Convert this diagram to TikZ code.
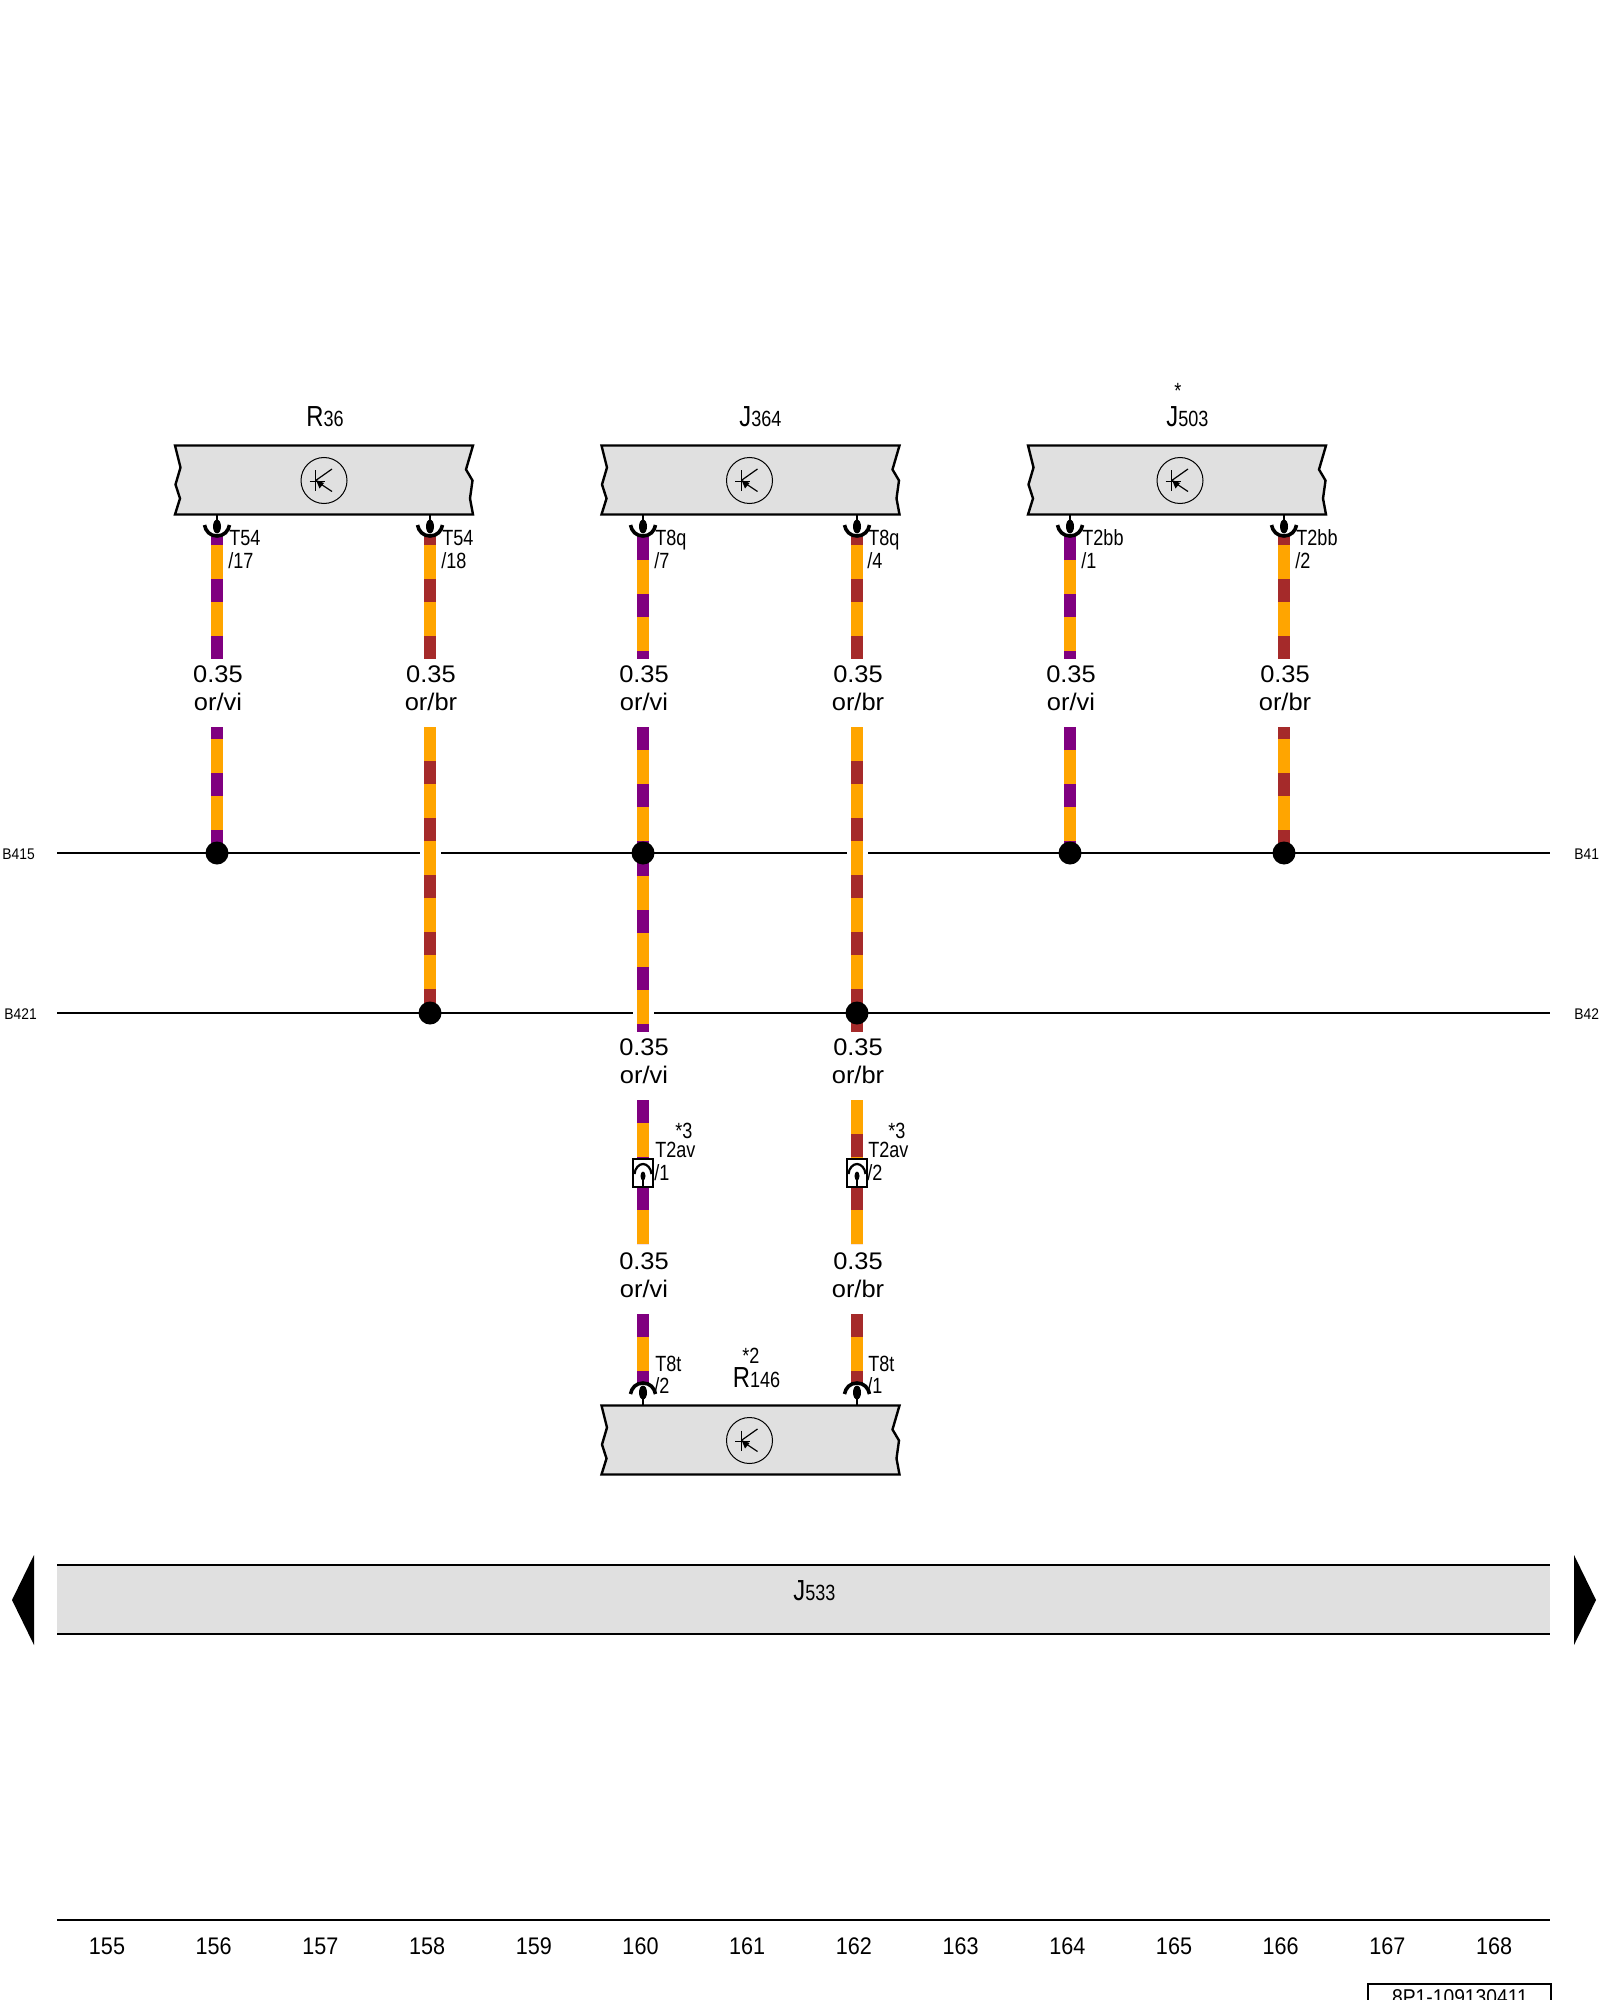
\documentclass[tikz,border=0pt]{standalone}
\usepackage{fontspec}
\setmainfont{Liberation Sans}
\newfontfamily\narrowfont[FakeStretch=0.82]{Liberation Sans}
\newfontfamily\semifont[FakeStretch=0.9]{Liberation Sans}
\newfontfamily\widefont[FakeStretch=1.06]{Liberation Sans}

\definecolor{wireor}{HTML}{FFA500}
\definecolor{wirevi}{HTML}{800080}
\definecolor{wirebr}{HTML}{A52A2A}
\definecolor{boxgrey}{HTML}{E0E0E0}

\tikzset{
    wirecore/.style={line width=5.75pt, draw=wireor},
    busline/.style={line width=1pt},
    junction/.style={circle, fill=black, inner sep=0pt, minimum size=11.5pt},
    gauge/.style={font=\widefont\fontsize{12}{14}\selectfont, align=center, inner sep=0pt},
    pinlabel/.style={font=\narrowfont\fontsize{11}{11}\selectfont, anchor=base west, inner sep=0pt},
    buslabel/.style={font=\semifont\fontsize{7.7}{8}\selectfont, anchor=base west, inner sep=0pt},
    partlabel/.style={font=\narrowfont\fontsize{14.5}{14.5}\selectfont, anchor=base west, inner sep=0pt},
    collabel/.style={font=\semifont\fontsize{12}{12}\selectfont, anchor=base, inner sep=0pt}
}

% wire from, to, stripe colour, dash phase in pt
\newcommand{\wire}[4]{
    \draw[wirecore] (#1) -- (#2);
    \draw[wirecore, draw=#3, dash pattern=on 11.5pt off 17pt, dash phase=#4pt] (#1) -- (#2);
}

% pin mark at x, y of the box edge, 1 hangs down and -1 stands up
\newcommand{\pinmark}[3]{
    \begin{scope}[shift={(#1,#2)}, yscale=#3]
        \draw[line width=0.8pt] (0,0) -- (0,8);
        \fill (0,12.5) ellipse (4 and 7);
        \draw[line width=1.8pt] (-12.5,11) .. controls (-11.5,17) and (-7,22) .. (0,22)
            .. controls (7,22) and (11.5,17) .. (12.5,11);
    \end{scope}
}

% part box with left edge x, top edge y, and the symbol at dx
\newcommand{\partbox}[3]{
    \begin{scope}[shift={(#1,#2)}]
        \draw[line width=1.2pt, fill=boxgrey] (0,0) -- (298,0) -- (291,24) -- (297.5,35)
            -- (295,53) -- (298,69) -- (0,69) -- (5,53) -- (0.5,39) -- (5.5,22) -- cycle;
        \draw[line width=0.5pt] (#3,35) circle (23);
        \begin{scope}[shift={(#3,35)}]
            \draw[line width=0.6pt] (-14.5,0.7) -- (0.7,0.7);
            \draw[line width=0.6pt] (-8.3,-10) -- (-8.3,10.7);
            \draw[line width=0.6pt] (-8.3,0) -- (8,-11.5);
            \draw[line width=0.6pt] (-4,3) -- (8,11);
            \fill (-8,-0.5) -- (0,2.5) -- (-4.5,8) -- cycle;
        \end{scope}
    \end{scope}
}

\begin{document}
\begin{tikzpicture}[x=0.5pt, y=-0.5pt]
        \useasboundingbox (0,0) rectangle (1600,2000);
        \clip (0,0) rectangle (1600,2000);

        % Wire ends --  --  --  --  --  --  --  --  --  --  --  --  --  --
        \foreach \n/\x in {a/217, b/430, c/643, d/857, e/1070, f/1284} {
            \coordinate (\n-pin) at (\x,537);
            \coordinate (\n-upper) at (\x,659);
            \coordinate (\n-lower) at (\x,727);
            \coordinate (\n-busA) at (\x,853);
            \coordinate (\n-busB) at (\x,1013);
            \coordinate (\n-end) at (\x,1032);
            \coordinate (\n-mid) at (\x,1100);
            \coordinate (\n-plugtop) at (\x,1159);
            \coordinate (\n-plugbot) at (\x,1187);
            \coordinate (\n-midend) at (\x,1244);
            \coordinate (\n-low) at (\x,1314);
            \coordinate (\n-socket) at (\x,1385);
        }
        %  --  --  --  --  --  --  --  --  --  --  --  --  --  --  --  --

        % Bus lines --  --  --  --  --  --  --  --  --  --  --  --  --  --
        \foreach \u/\v [count=\i] in {57/420, 441/847, 868/1550} {
            \coordinate (busA\i s) at (\u,853);
            \coordinate (busA\i e) at (\v,853);
            \draw[busline] (busA\i s) -- (busA\i e);
        }
        \foreach \u/\v [count=\i] in {57/633, 654/1550} {
            \coordinate (busB\i s) at (\u,1013);
            \coordinate (busB\i e) at (\v,1013);
            \draw[busline] (busB\i s) -- (busB\i e);
        }
        \node[buslabel] (busAleft) at (2,859) {B415};
        \node[buslabel] (busBleft) at (4,1019) {B421};
        \node[buslabel] (busAright) at (1574,859) {B41};
        \node[buslabel] (busBright) at (1574,1019) {B42};
        %  --  --  --  --  --  --  --  --  --  --  --  --  --  --  --  --

        % Wires --  --  --  --  --  --  --  --  --  --  --  --  --  --  --
        % box to first label
        \wire{a-pin}{a-upper}{wirevi}{7.5}
        \wire{b-pin}{b-upper}{wirebr}{7.5}
        \wire{c-pin}{c-upper}{wirevi}{0}
        \wire{d-pin}{d-upper}{wirebr}{7.5}
        \wire{e-pin}{e-upper}{wirevi}{0}
        \wire{f-pin}{f-upper}{wirebr}{7.5}

        % first label to the bus lines
        \wire{a-lower}{a-busA}{wirevi}{5.5}
        \wire{b-lower}{b-busB}{wirebr}{11.5}
        \wire{c-lower}{c-busA}{wirevi}{0}
        \wire{c-busA}{c-end}{wirevi}{0}
        \wire{d-lower}{d-busB}{wirebr}{11.5}
        \wire{d-busB}{d-end}{wirebr}{0}
        \wire{e-lower}{e-busA}{wirevi}{0}
        \wire{f-lower}{f-busA}{wirebr}{5.5}

        % around the inline plugs
        \wire{c-mid}{c-plugtop}{wirevi}{0}
        \wire{c-plugbot}{c-midend}{wirevi}{0}
        \wire{d-mid}{d-plugtop}{wirebr}{11.5}
        \wire{d-plugbot}{d-midend}{wirebr}{0}

        % down to the lower box
        \wire{c-low}{c-socket}{wirevi}{0}
        \wire{d-low}{d-socket}{wirebr}{0}

        % Junctions
        \node[junction] (dot a) at (a-busA) {};
        \node[junction] (dot b) at (b-busB) {};
        \node[junction] (dot c) at (c-busA) {};
        \node[junction] (dot d) at (d-busB) {};
        \node[junction] (dot e) at (e-busA) {};
        \node[junction] (dot f) at (f-busA) {};
        %  --  --  --  --  --  --  --  --  --  --  --  --  --  --  --  --

        % Part boxes -- --  --  --  --  --  --  --  --  --  --  --  --  --
        \partbox{175}{445.5}{149}
        \partbox{601.5}{445.5}{148}
        \partbox{1028}{445.5}{152}
        \partbox{601.5}{1405.5}{148}

        \node[partlabel] (R36) at (306,427) {R{\fontsize{11}{11}\selectfont 36}};
        \node[partlabel] (J364) at (739,427) {J{\fontsize{11}{11}\selectfont 364}};
        \node[partlabel] (J503) at (1166,427) {J{\fontsize{11}{11}\selectfont 503}};
        \node[partlabel] (R146) at (732.5,1387) {R{\fontsize{11}{11}\selectfont 146}};
        \node[pinlabel] (J503star) at (1174,399) {*};
        \node[pinlabel] (R146star) at (742,1363) {*2};

        % Pins
        \foreach \x in {217, 430, 643, 857, 1070, 1284} {
            \pinmark{\x}{514}{1}
        }
        \foreach \x in {643, 857} {
            \pinmark{\x}{1405}{-1}
        }

        \node[pinlabel] (pinA) at (229,545) {T54};
        \node[pinlabel] (pinAn) at (228,568) {/17};
        \node[pinlabel] (pinB) at (442,545) {T54};
        \node[pinlabel] (pinBn) at (441,568) {/18};
        \node[pinlabel] (pinC) at (655,545) {T8q};
        \node[pinlabel] (pinCn) at (654,568) {/7};
        \node[pinlabel] (pinD) at (868,545) {T8q};
        \node[pinlabel] (pinDn) at (867,568) {/4};
        \node[pinlabel] (pinE) at (1082,545) {T2bb};
        \node[pinlabel] (pinEn) at (1081,568) {/1};
        \node[pinlabel] (pinF) at (1296,545) {T2bb};
        \node[pinlabel] (pinFn) at (1295,568) {/2};

        \node[pinlabel] (sockC) at (655,1371) {T8t};
        \node[pinlabel] (sockCn) at (654,1393) {/2};
        \node[pinlabel] (sockD) at (868,1371) {T8t};
        \node[pinlabel] (sockDn) at (867,1393) {/1};
        %  --  --  --  --  --  --  --  --  --  --  --  --  --  --  --  --

        % Inline plugs  --  --  --  --  --  --  --  --  --  --  --  --  --
        \foreach \x in {643, 857} {
            \draw[line width=0.8pt, fill=white] (\x-10,1159) rectangle (\x+10,1187);
            \begin{scope}[shift={(\x,1187)}]
                \draw[line width=0.7pt] (0,0) -- (0,-7);
                \fill (0,-11) ellipse (2.5 and 4.5);
                \draw[line width=1.1pt] (-8.5,-13) .. controls (-8,-19) and (-4,-23) .. (0,-23)
                    .. controls (4,-23) and (8,-19) .. (8.5,-13);
            \end{scope}
        }
        \node[pinlabel] (plugC) at (655,1157) {T2av};
        \node[pinlabel] (plugCn) at (654,1180) {/1};
        \node[pinlabel] (plugCstar) at (675,1138) {*3};
        \node[pinlabel] (plugD) at (868,1157) {T2av};
        \node[pinlabel] (plugDn) at (867,1180) {/2};
        \node[pinlabel] (plugDstar) at (888,1138) {*3};
        %  --  --  --  --  --  --  --  --  --  --  --  --  --  --  --  --

        % Gauge labels  --  --  --  --  --  --  --  --  --  --  --  --  --
        \foreach \n/\x/\t in {a/218/vi, b/431/br, c/644/vi, d/858/br, e/1071/vi, f/1285/br}
            \node[gauge] (gauge\n) at (\x,688.5) {0.35\\or/\t};
        \foreach \n/\x/\t in {c/644/vi, d/858/br} {
            \node[gauge] (gauge\n two) at (\x,1061.5) {0.35\\or/\t};
            \node[gauge] (gauge\n three) at (\x,1275.5) {0.35\\or/\t};
        }
        %  --  --  --  --  --  --  --  --  --  --  --  --  --  --  --  --

        % Lower bar --  --  --  --  --  --  --  --  --  --  --  --  --  --
        \coordinate (bar tl) at (57,1565);
        \coordinate (bar tr) at (1550,1565);
        \coordinate (bar bl) at (57,1634);
        \coordinate (bar br) at (1550,1634);
        \fill[boxgrey] (bar tl) rectangle (bar br);
        \draw[line width=1.2pt] (bar tl) -- (bar tr);
        \draw[line width=1.2pt] (bar bl) -- (bar br);
        \node[partlabel] (J533) at (793,1600) {J{\fontsize{11}{11}\selectfont 533}};

        \fill (12,1600) -- (34,1555) -- (34,1645) -- cycle;
        \fill (1596,1600) -- (1574,1555) -- (1574,1645) -- cycle;
        %  --  --  --  --  --  --  --  --  --  --  --  --  --  --  --  --

        % Column scale  --  --  --  --  --  --  --  --  --  --  --  --  --
        \coordinate (scale l) at (57,1920);
        \coordinate (scale r) at (1550,1920);
        \draw[line width=1pt] (scale l) -- (scale r);
        \foreach \v [count=\i from 0] in {155, ..., 168} {
            \pgfmathsetmacro{\xpos}{107+106.7*\i}
            \node[collabel] (col\v) at (\xpos,1954) {\v};
        }

        % Stamp, cut by the page edge
        \draw[line width=1pt] (1368,2012) -- (1368,1984) -- (1551,1984) -- (1551,2012);
        \node[font=\semifont\fontsize{10.7}{11}\selectfont, anchor=base, inner sep=0pt] (stamp) at (1460,2004) {8P1-109130411};
        %  --  --  --  --  --  --  --  --  --  --  --  --  --  --  --  --
\end{tikzpicture}
\end{document}
